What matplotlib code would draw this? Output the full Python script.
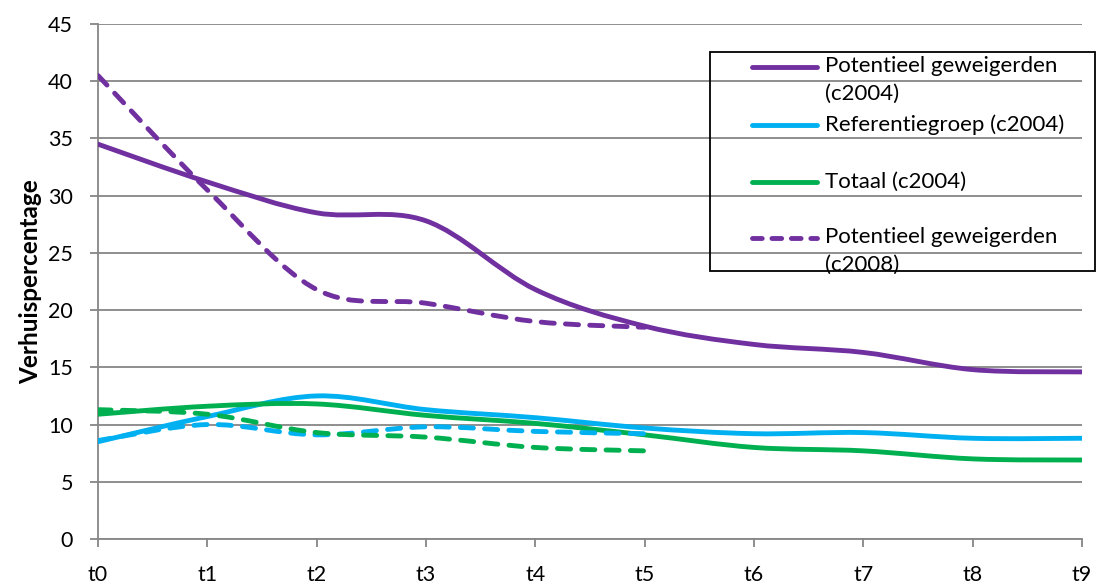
import matplotlib.pyplot as plt
from matplotlib.path import Path
from matplotlib.patches import PathPatch, Rectangle
from matplotlib.lines import Line2D

plt.rcParams['font.family'] = ['Lato', 'DejaVu Sans']

# data
labels = ['t0', 't1', 't2', 't3', 't4', 't5', 't6', 't7', 't8', 't9']
pot_2004 = [34.5, 31.2, 28.5, 27.8, 21.8, 18.6, 17.0, 16.3, 14.8, 14.6]
ref_2004 = [8.5, 10.7, 12.5, 11.3, 10.6, 9.7, 9.2, 9.3, 8.8, 8.8]
tot_2004 = [10.9, 11.6, 11.8, 10.8, 10.1, 9.1, 8.0, 7.7, 7.0, 6.9]
pot_2008 = [40.5, 30.5, 21.8, 20.6, 19.0, 18.5]
ref_2008 = [8.6, 10.0, 9.1, 9.8, 9.4, 9.2]
tot_2008 = [11.3, 10.9, 9.3, 8.9, 8.0, 7.7]

PURPLE = '#7030A0'
BLUE = '#00B0F0'
GREEN = '#00B050'
GRID = '#868686'


def smooth_path(ys):
    # Excel-style smoothed line: cubic bezier between the data points
    xs = list(range(len(ys)))
    n = len(ys)
    verts = [(xs[0], ys[0])]
    codes = [Path.MOVETO]
    for i in range(n - 1):
        p0 = (xs[max(i - 1, 0)], ys[max(i - 1, 0)])
        p1 = (xs[i], ys[i])
        p2 = (xs[i + 1], ys[i + 1])
        p3 = (xs[min(i + 2, n - 1)], ys[min(i + 2, n - 1)])
        c1 = (p1[0] + (p2[0] - p0[0]) / 6, p1[1] + (p2[1] - p0[1]) / 6)
        c2 = (p2[0] - (p3[0] - p1[0]) / 6, p2[1] - (p3[1] - p1[1]) / 6)
        verts += [c1, c2, p2]
        codes += [Path.CURVE4] * 3
    return Path(verts, codes)


fig = plt.figure(figsize=(10.96, 5.87), dpi=100)
ax = fig.add_axes([0.0894, 0.0818, 0.8978, 0.8773])

lw = 3.5
dash = (2.7, 2.3)
series = [
    (pot_2004, PURPLE, '-'),
    (ref_2004, BLUE, '-'),
    (tot_2004, GREEN, '-'),
    (ref_2008, BLUE, '--'),
    (tot_2008, GREEN, '--'),
    (pot_2008, PURPLE, '--'),
]
for ys, col, ls in series:
    patch = PathPatch(smooth_path(ys), fill=False, edgecolor=col, lw=lw,
                      capstyle='round', joinstyle='round', zorder=3)
    if ls == '--':
        patch.set_linestyle((0, dash))
    ax.add_patch(patch)

ax.set_xlim(0, 9)
ax.set_ylim(0, 45)
ax.set_xticks(range(len(labels)))
ax.set_xticklabels(labels)
ax.set_yticks(range(0, 46, 5))
ax.grid(axis='y', color=GRID, lw=1.3)
ax.set_axisbelow(True)
for s in ['top', 'right']:
    ax.spines[s].set_visible(False)
for s in ['left', 'bottom']:
    ax.spines[s].set_color(GRID)
    ax.spines[s].set_linewidth(1.3)
ax.tick_params(axis='both', colors=GRID, length=6, width=1.3, labelsize=15.5,
               labelcolor='black')
ax.tick_params(axis='x', pad=13)
ax.tick_params(axis='y', pad=12)
ax.set_ylabel('Verhuispercentage', fontsize=17.5, fontweight='bold', labelpad=4)

# legend box, drawn by hand to keep Excel's uneven row layout
fig.patches.append(Rectangle((0.648, 0.538), 0.351, 0.3736, transform=fig.transFigure,
                             fill=False, edgecolor='black', lw=1.3, zorder=5))
entries = [
    ('Potentieel geweigerden\n(c2004)', PURPLE, '-', 67),
    ('Referentiegroep (c2004)', BLUE, '-', 125),
    ('Totaal (c2004)', GREEN, '-', 182),
    ('Potentieel geweigerden\n(c2008)', PURPLE, '--', 238),
]
for txt, col, ls, ypx in entries:
    yf = 1 - ypx / 587
    ln = Line2D([0.686, 0.745], [yf, yf], transform=fig.transFigure, color=col,
                lw=lw, solid_capstyle='round', dash_capstyle='round')
    if ls == '--':
        ln.set_dashes((2.0, 2.0))
    fig.lines.append(ln)
    fig.text(0.753, yf + 0.018, txt, fontsize=16, va='top', ha='left',
             linespacing=1.45)

fig.savefig('out.png', dpi=100)
